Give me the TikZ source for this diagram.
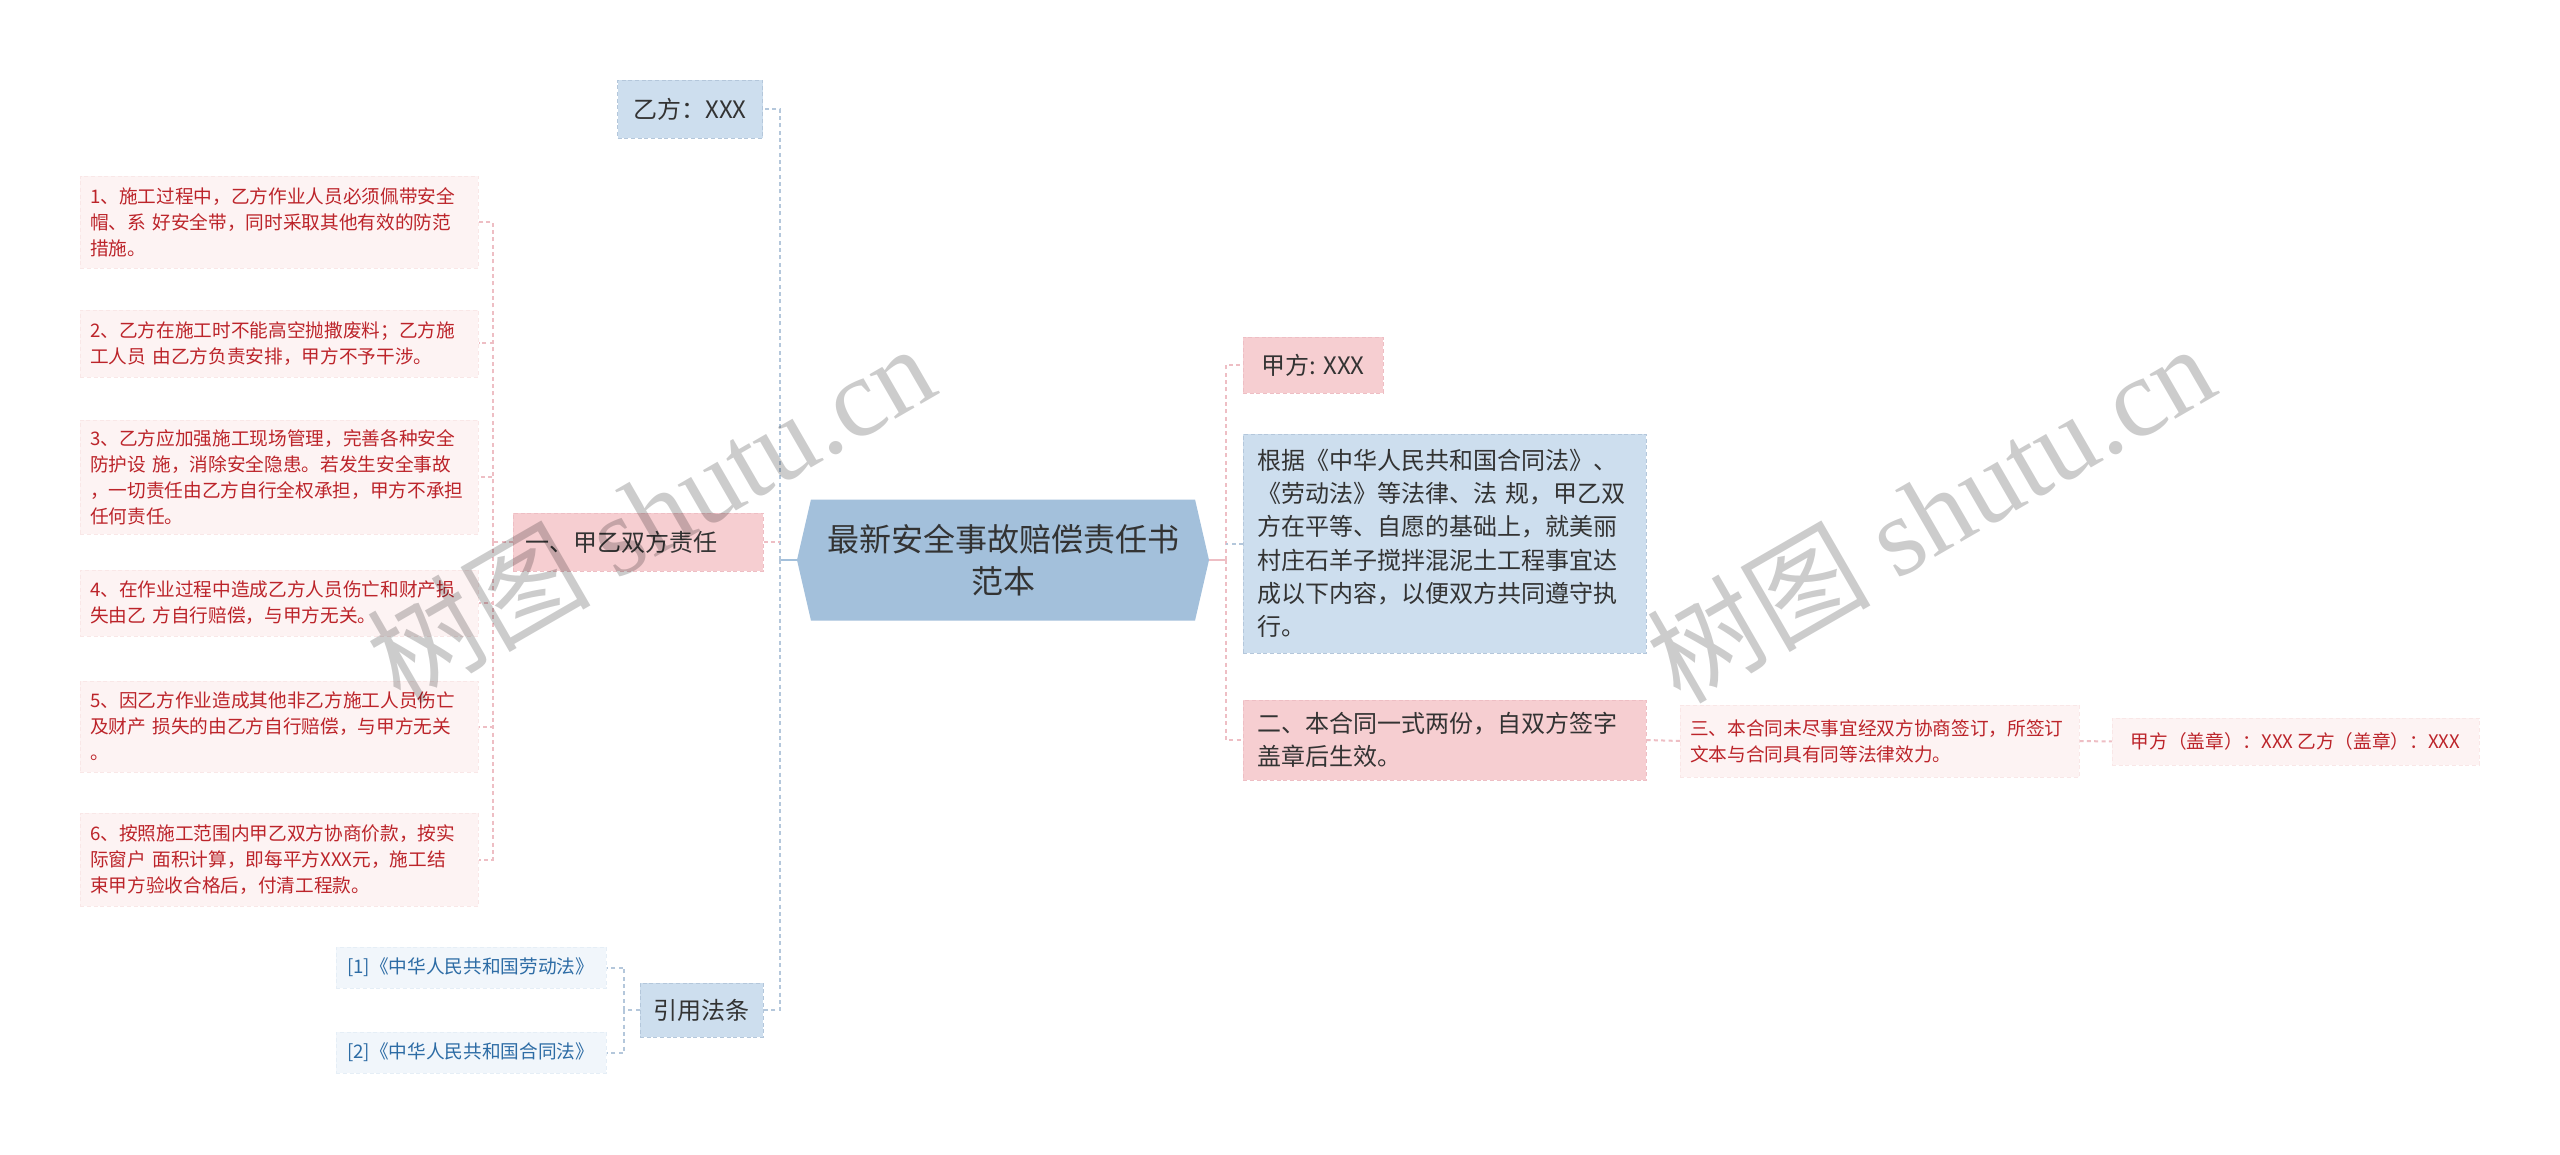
\documentclass[tikz,border=0pt]{standalone}
\usepackage{fontspec}
\setmainfont{Noto Sans CJK SC}
\newfontfamily\wmfont{Liberation Serif}
\usetikzlibrary{shapes.symbols}
\definecolor{rootblue}{RGB}{163,192,219}
\definecolor{lightblue}{RGB}{205,222,238}
\definecolor{lightpink}{RGB}{246,206,209}
\definecolor{leafpink}{RGB}{253,243,243}
\definecolor{leafblue}{RGB}{241,246,251}
\definecolor{leafred}{RGB}{188,36,42}
\definecolor{refblue}{RGB}{45,108,165}
\definecolor{darktext}{RGB}{51,51,51}
\definecolor{linkblue}{RGB}{180,199,219}
\definecolor{linkpink}{RGB}{238,190,196}

\begin{document}
\begin{tikzpicture}[x=0.75pt, y=-0.75pt,
  rootbox/.style={signal, signal to=west and east, signal pointer angle=154, fill=rootblue, text=darktext, font=\fontsize{24}{32}\selectfont, align=center, inner sep=0pt, minimum width=309pt, minimum height=90.75pt},
  bluebox/.style={fill=lightblue, draw=linkblue, dash pattern=on 3pt off 2pt, text=darktext, font=\fontsize{18}{25}\selectfont, inner sep=0pt},
  pinkbox/.style={fill=lightpink, draw=linkpink, dash pattern=on 3pt off 2pt, text=darktext, font=\fontsize{18}{25}\selectfont, inner sep=0pt},
  redleaf/.style={fill=leafpink, draw=leafpink!94!leafred, dash pattern=on 3pt off 2pt, text=leafred, font=\fontsize{14}{19.5}\selectfont, inner sep=0pt},
  blueleaf/.style={fill=leafblue, draw=leafblue!94!refblue, dash pattern=on 3pt off 2pt, text=refblue, font=\fontsize{14}{19.5}\selectfont, inner sep=0pt},
  item/.style={redleaf, anchor=west, align=left, inner xsep=7.5pt, text width=283.5pt},
  bluelink/.style={draw=linkblue, line width=1.5pt, dash pattern=on 3pt off 2.5pt},
  pinklink/.style={draw=linkpink, line width=1.5pt, dash pattern=on 3pt off 2.5pt},
  watermark/.style={rotate=30, text=black, text opacity=0.2, font=\fontsize{84}{84}\selectfont}]
  \useasboundingbox (0,0) rectangle (2560,1155);
  \fill[white] (0,0) rectangle (2560,1155);

  % Root
  \node[rootbox] (root) at (1003,560) {最新安全事故赔偿责任书\\范本};

  % Left side
  \node[bluebox, minimum width=108.75pt, minimum height=43.5pt] (yifang) at (690,109) {乙方：XXX};
  \node[pinkbox, anchor=west, align=left, inner xsep=9pt, text width=169.5pt, minimum height=43.5pt] (duty) at (513,542) {一、甲乙双方责任};
  \node[bluebox, minimum width=92.25pt, minimum height=40.5pt] (cite) at (701.5,1010) {引用法条};

  \node[item, minimum height=69pt] (d1) at (80,222) {1、施工过程中，乙方作业人员必须佩带安全\\帽、系 好安全带，同时采取其他有效的防范\\措施。};
  \node[item, minimum height=50.25pt] (d2) at (80,343.5) {2、乙方在施工时不能高空抛撒废料；乙方施\\工人员 由乙方负责安排，甲方不予干涉。};
  \node[item, minimum height=85.5pt] (d3) at (80,477) {3、乙方应加强施工现场管理，完善各种安全\\防护设 施，消除安全隐患。若发生安全事故\\，一切责任由乙方自行全权承担，甲方不承担\\任何责任。};
  \node[item, minimum height=49.5pt] (d4) at (80,603) {4、在作业过程中造成乙方人员伤亡和财产损\\失由乙 方自行赔偿，与甲方无关。};
  \node[item, minimum height=68.25pt] (d5) at (80,726.5) {5、因乙方作业造成其他非乙方施工人员伤亡\\及财产 损失的由乙方自行赔偿，与甲方无关\\。};
  \node[item, minimum height=69.75pt] (d6) at (80,859.5) {6、按照施工范围内甲乙双方协商价款，按实\\际窗户 面积计算，即每平方XXX元，施工结\\束甲方验收合格后，付清工程款。};

  \node[blueleaf, anchor=west, align=left, inner xsep=8.25pt, text width=186pt, minimum height=30.75pt] (r1) at (336,967.5) {[1]《中华人民共和国劳动法》};
  \node[blueleaf, anchor=west, align=left, inner xsep=8.25pt, text width=186pt, minimum height=30.75pt] (r2) at (336,1052.5) {[2]《中华人民共和国合同法》};

  % Right side
  \node[pinkbox, minimum width=105pt, minimum height=42pt] (jiafang) at (1313,365) {甲方: XXX};
  \node[bluebox, anchor=west, align=left, inner xsep=10.5pt, text width=281.25pt, minimum height=164.25pt] (basis) at (1243,543.5) {根据《中华人民共和国合同法》、\\《劳动法》等法律、法 规，甲乙双\\方在平等、自愿的基础上，就美丽\\村庄石羊子搅拌混泥土工程事宜达\\成以下内容，以便双方共同遵守执\\行。};
  \node[pinkbox, anchor=west, align=left, inner xsep=10.5pt, text width=281.25pt, minimum height=60pt] (two) at (1243,740) {二、本合同一式两份，自双方签字\\盖章后生效。};
  \node[redleaf, anchor=west, align=left, inner xsep=7.5pt, text width=284.25pt, minimum height=54pt] (three) at (1680,741) {三、本合同未尽事宜经双方协商签订，所签订\\文本与合同具有同等法律效力。};
  \node[redleaf, minimum width=275.25pt, minimum height=35.25pt] (seal) at (2295.5,741.5) {甲方（盖章）：XXX 乙方（盖章）：XXX};

  % Connectors, left
  \coordinate (jl) at (780,560);
  \draw[rootblue, line width=2pt] (root.west) -- (jl);
  \draw[bluelink] (jl) |- (yifang.east);
  \draw[bluelink] (jl) |- (cite.east);
  \draw[pinklink] (duty.east) -- (duty.east -| jl);
  \coordinate (jd) at (493,542);
  \draw[pinklink] (duty.west) -- (jd);
  \foreach \n in {d1,d2,d3,d4,d5,d6}
    \draw[pinklink] (jd) |- (\n.east);
  \coordinate (jc) at (624,1010);
  \draw[bluelink] (cite.west) -- (jc);
  \foreach \n in {r1,r2}
    \draw[bluelink] (jc) |- (\n.east);

  % Connectors, right
  \coordinate (jr) at (1226,560);
  \draw[linkpink, line width=2pt] (root.east) -- (jr);
  \draw[pinklink] (jr) |- (jiafang.west);
  \draw[pinklink] (jr) |- (two.west);
  \draw[bluelink] (basis.west) -- (basis.west -| jr);
  \draw[pinklink] (two.east) -- (three.west);
  \draw[pinklink] (three.east) -- (seal.west);

  % Watermark
  \node[watermark] (wm1) at (650,512) {树图 {\wmfont shutu.cn}};
  \node[watermark] (wm2) at (1930,512) {树图 {\wmfont shutu.cn}};
\end{tikzpicture}
\end{document}
